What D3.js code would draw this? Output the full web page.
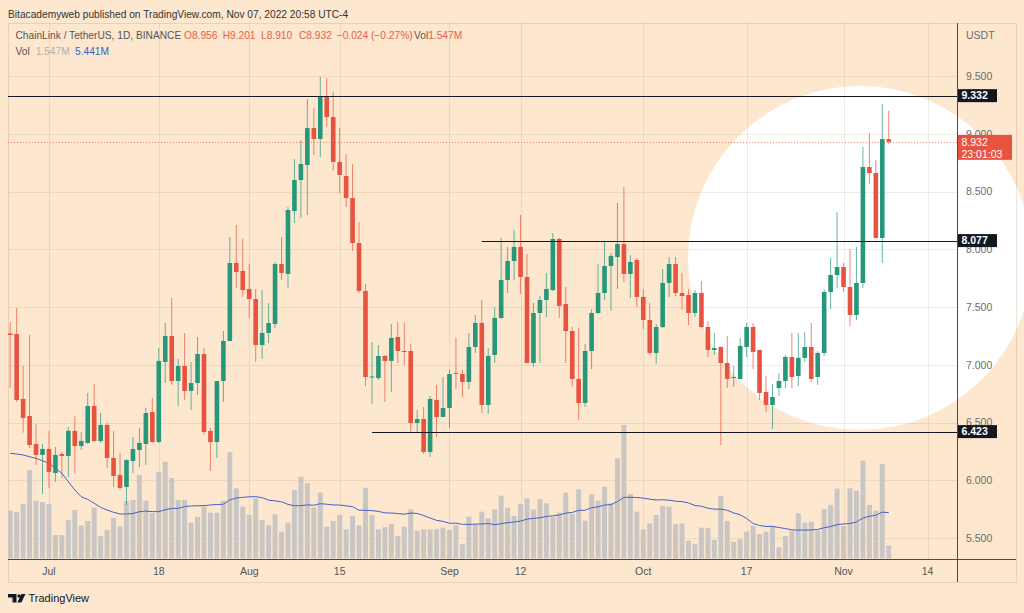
<!DOCTYPE html>
<html><head><meta charset="utf-8">
<script src="https://cdn.jsdelivr.net/npm/d3@7"></script>
<style>
html,body{margin:0;padding:0;background:#fde7cf;}
svg{display:block;font-family:"Liberation Sans",Arial,sans-serif;}
</style></head>
<body><svg id="c" width="1024" height="613"></svg>
<script>
// ---------- DATA ----------
const startDate = "2022-06-25"; // first daily candle, one per day
const open = [7.273,7.268,6.706,6.558,6.316,6.221,6.273,6.065,6.229,6.212,
6.429,6.299,6.325,6.645,6.342,6.481,6.195,6.048,5.944,6.169,
6.264,6.316,6.593,6.333,7.026,7.251,6.861,6.991,6.775,6.844,
7.095,6.429,6.333,6.861,7.208,7.883,7.814,7.658,7.571,7.173,
7.277,7.355,7.874,7.788,8.333,8.602,8.732,9.052,8.957,9.329,
9.147,8.758,8.636,8.446,8.056,7.641,6.896,6.887,7.078,7.035,
7.242,7.121,7.121,6.498,6.532,6.247,6.697,6.550,6.628,6.931,
6.922,6.853,7.156,7.364,6.654,7.087,7.407,7.736,7.900,8.022,
7.762,7.017,7.450,7.563,7.649,8.091,7.528,7.294,6.879,6.671,
7.121,7.450,7.623,7.857,7.935,8.048,7.788,7.909,7.589,7.390,
7.104,7.329,7.710,7.874,7.623,7.606,7.450,7.623,7.329,7.130,
7.156,7.017,6.887,6.879,7.156,7.329,7.130,6.766,6.654,6.801,
6.861,7.069,6.905,7.061,7.156,6.896,7.104,7.632,7.779,7.848,
7.675,7.433,7.710,8.714,8.662,8.100,8.956];
const high = [7.372,7.494,6.991,7.260,6.489,6.316,6.429,6.290,6.247,6.463,
6.558,6.420,6.758,6.835,6.584,6.498,6.429,6.238,6.186,6.377,
6.455,6.628,6.714,7.147,7.364,7.580,7.052,7.277,7.026,7.242,
7.147,6.455,6.861,7.294,8.108,8.212,8.091,7.874,7.658,7.649,
7.537,7.892,8.108,8.368,8.784,8.948,9.303,9.225,9.494,9.485,
9.364,9.052,8.827,8.740,8.238,7.701,7.199,7.173,7.087,7.355,
7.372,7.364,7.182,6.610,6.636,6.732,6.827,6.896,6.957,7.234,
6.957,7.277,7.433,7.563,7.147,7.502,8.100,8.022,8.169,8.299,
7.961,7.537,7.597,7.797,8.143,8.100,7.675,7.329,7.320,7.182,
7.485,7.874,8.074,7.970,8.403,8.541,7.952,7.926,7.658,7.537,
7.355,7.831,7.935,7.935,7.797,7.658,7.649,7.727,7.381,7.277,
7.156,7.251,6.991,7.234,7.364,7.364,7.130,6.905,6.835,6.931,
7.087,7.277,7.277,7.286,7.364,7.121,7.658,7.926,8.325,7.883,
8.004,8.022,8.887,9.009,8.775,9.260,9.201];
const low = [6.801,6.680,6.414,6.281,6.134,5.883,5.935,5.987,6.022,6.030,
6.065,6.264,6.316,6.333,6.325,6.108,5.944,5.918,5.788,6.065,
6.117,6.134,6.325,6.325,6.844,6.827,6.645,6.697,6.610,6.740,
6.394,6.082,6.195,6.680,7.208,7.667,7.589,7.407,7.026,7.052,
7.190,7.320,7.736,7.667,8.229,8.273,8.299,8.818,8.801,9.061,
8.680,8.489,8.368,7.987,7.623,6.818,6.662,6.870,6.680,6.766,
7.017,7.000,6.411,6.411,6.229,6.203,6.377,6.550,6.455,6.792,
6.723,6.792,7.104,6.584,6.576,7.017,7.398,7.623,7.736,7.615,
7.017,6.983,7.017,7.416,7.641,7.407,7.017,6.810,6.524,6.636,
6.965,7.442,7.563,7.468,7.658,7.719,7.580,7.502,7.312,7.087,
7.009,7.320,7.589,7.597,7.476,7.346,7.416,7.320,7.069,7.087,
6.307,6.801,6.810,6.879,7.069,6.965,6.697,6.593,6.446,6.732,
6.801,6.801,6.818,7.026,6.853,6.827,7.078,7.485,7.667,7.632,
7.338,7.390,7.667,8.567,8.100,7.883,8.910];
const close = [7.260,6.697,6.541,6.307,6.221,6.273,6.074,6.221,6.212,6.429,
6.299,6.342,6.645,6.342,6.481,6.195,6.039,5.935,6.177,6.273,
6.325,6.584,6.333,7.035,7.251,6.861,6.991,6.775,6.844,7.095,
6.420,6.333,6.861,7.208,7.883,7.805,7.649,7.571,7.173,7.277,
7.364,7.874,7.797,8.342,8.602,8.740,9.052,8.957,9.329,9.147,
8.758,8.645,8.446,8.056,7.641,6.896,6.900,7.078,7.035,7.234,
7.121,7.117,6.498,6.532,6.247,6.706,6.550,6.628,6.922,6.926,
6.853,7.156,7.364,6.654,7.078,7.407,7.736,7.900,8.022,7.762,
7.017,7.450,7.563,7.658,8.091,7.511,7.294,6.879,6.671,7.121,
7.450,7.623,7.857,7.944,8.048,7.788,7.892,7.589,7.390,7.104,
7.329,7.710,7.874,7.623,7.597,7.450,7.623,7.329,7.130,7.147,
7.017,6.879,6.896,7.165,7.329,7.113,6.758,6.654,6.723,6.861,
7.069,6.896,7.061,7.156,6.879,7.104,7.632,7.779,7.848,7.675,
7.433,7.710,8.714,8.662,8.100,8.956,8.932];
const volume = [5.68,5.52,6.47,10.51,6.87,6.71,6.47,2.79,2.79,4.57,
5.76,3.90,4.46,6.04,2.67,3.39,4.81,3.78,6.83,6.95,
9.92,6.87,5.41,10.31,11.50,9.56,6.95,6.95,4.25,4.93,
6.15,5.44,5.44,6.87,12.62,8.34,6.15,5.17,7.15,4.57,
3.94,5.25,3.18,4.25,8.14,9.72,8.93,6.08,7.82,3.78,
4.46,5.17,3.47,5.05,3.94,8.41,5.17,3.47,3.71,4.10,
2.67,3.78,5.84,3.30,3.47,3.47,3.47,3.66,3.39,3.98,
1.69,4.97,4.10,5.56,4.78,5.84,7.46,6.04,5.05,6.47,
7.15,5.84,7.07,6.56,4.97,5.44,7.82,5.29,8.22,4.49,
7.63,6.87,8.53,6.56,11.90,15.86,7.66,5.56,3.47,4.18,
5.17,6.24,6.15,4.06,4.18,2.11,1.72,3.66,3.62,2.20,
7.43,4.46,2.00,2.28,3.18,3.86,2.91,3.18,3.86,1.33,
2.67,3.30,5.37,4.25,4.37,3.30,5.84,6.36,8.30,3.86,
8.34,8.05,11.62,6.36,5.68,11.23,1.547];
// volume MA(20) values for the first candles (window reaches before the visible range)
const maHead = [12.50,12.41,12.30,12.09,11.90,11.62,11.31,10.72,10.12,9.12,8.14,7.34,7.03,6.56,6.08,5.76,5.49,5.29,5.29];
const maPeriod = 20;
const tickDates = ["2022-07-01","2022-07-18","2022-08-01","2022-08-15","2022-09-01","2022-09-12","2022-10-01","2022-10-17","2022-11-01","2022-11-14"];
const tickLabels = ["Jul","18","Aug","15","Sep","12","Oct","17","Nov","14"];
const priceTicks = [5.5,6.0,6.5,7.0,7.5,8.0,8.5,9.0,9.5];
const levelValues = [9.332, 8.077, 6.423];
const levelStart = [null, "2022-09-06", "2022-08-20"];
const lastPrice = 8.932;
const countdown = "23:01:03";

// ---------- LAYOUT ----------
const W = 1024, H = 613;
const pane = {l: 8, r: 957, t: 23, b: 559};
const frameR = 1016, frameB = 582;
const UP = "#26977a", DN = "#e8533f";
const svg = d3.select("#c");
const DAY = 86400000;
const t0 = Date.parse(startDate);
const dates = open.map((_, i) => new Date(t0 + i * DAY));

const x = d3.scaleUtc().domain([dates[0], dates[dates.length - 1]]).range([10.2, 10.2 + 6.46 * (dates.length - 1)]);
const y = d3.scaleLinear().domain([5.32, 9.961]).range([pane.b, pane.t]);
const yv = d3.scaleLinear().domain([0, 16]).range([558.5, 558.5 - 16 / 0.1188]);

svg.append("rect").attr("width", W).attr("height", H).attr("fill", "#fde7cf");

// highlight circle
svg.append("circle").attr("cx", 860).attr("cy", 258).attr("r", 172).attr("fill", "#ffffff");

// frame
svg.append("rect").attr("x", pane.l + 0.5).attr("y", pane.t + 0.5)
  .attr("width", frameR - pane.l).attr("height", frameB - pane.t)
  .attr("fill", "none").attr("stroke", "rgba(150,110,70,0.18)");

// grid
const grid = svg.append("g").attr("stroke", "rgba(150,110,70,0.13)").attr("stroke-width", 1);
tickDates.forEach(d => {
  const xx = Math.round(x(new Date(d))) + 0.5;
  grid.append("line").attr("x1", xx).attr("x2", xx).attr("y1", pane.t).attr("y2", pane.b);
});
priceTicks.forEach(p => {
  const yy = Math.round(y(p)) + 0.5;
  grid.append("line").attr("x1", pane.l).attr("x2", pane.r).attr("y1", yy).attr("y2", yy);
});

// clip
svg.append("defs").append("clipPath").attr("id", "pc").append("rect")
  .attr("x", pane.l).attr("y", pane.t).attr("width", pane.r - pane.l).attr("height", pane.b - pane.t);
const plot = svg.append("g").attr("clip-path", "url(#pc)");

// volume bars
plot.append("g").selectAll("rect").data(volume).join("rect")
  .attr("x", (v, i) => x(dates[i]) - 2.5).attr("width", 5)
  .attr("y", v => yv(v)).attr("height", v => yv(0) - yv(v))
  .attr("fill", "#c9c6c4");

// volume MA
const ma = volume.map((v, i) => i < maHead.length ? maHead[i] : d3.mean(volume.slice(i - maPeriod + 1, i + 1)));
plot.append("path").datum(ma)
  .attr("d", d3.line().x((v, i) => x(dates[i])).y(v => yv(v)))
  .attr("fill", "none").attr("stroke", "#4262c6").attr("stroke-width", 1);

// candles
const cg = plot.append("g");
open.forEach((o, i) => {
  const c = close[i], up = c >= o, col = up ? UP : DN;
  const cx = x(dates[i]);
  cg.append("line").attr("x1", cx).attr("x2", cx).attr("y1", y(high[i])).attr("y2", y(low[i]))
    .attr("stroke", col).attr("stroke-opacity", 0.7).attr("stroke-width", 1);
  const top = y(Math.max(o, c)), bot = y(Math.min(o, c));
  cg.append("rect").attr("x", cx - 2.3).attr("width", 4.6).attr("y", top).attr("height", Math.max(1, bot - top)).attr("fill", col);
});

// horizontal levels
levelValues.forEach((v, k) => {
  const yy = Math.round(y(v)) + 0.5;
  const x1 = levelStart[k] ? x(new Date(levelStart[k])) : pane.l;
  svg.append("line").attr("x1", x1).attr("x2", pane.r).attr("y1", yy).attr("y2", yy)
    .attr("stroke", "#131722").attr("stroke-width", 1);
});
// last price dotted
svg.append("line").attr("x1", pane.l).attr("x2", pane.r).attr("y1", Math.round(y(lastPrice)) + 0.5).attr("y2", Math.round(y(lastPrice)) + 0.5)
  .attr("stroke", DN).attr("stroke-width", 1).attr("stroke-dasharray", "1,2").attr("stroke-opacity", 0.7);

// axis lines
svg.append("line").attr("x1", pane.r + 0.5).attr("x2", pane.r + 0.5).attr("y1", pane.t).attr("y2", frameB).attr("stroke", "#4a4a4a");
svg.append("line").attr("x1", pane.l).attr("x2", frameR).attr("y1", pane.b + 0.5).attr("y2", pane.b + 0.5).attr("stroke", "#4a4a4a");

// price axis labels
const fmt = d3.format(".3f");
const pa = svg.append("g").attr("font-size", 10.5).attr("fill", "#6b6b6b");
priceTicks.forEach(p => {
  pa.append("text").attr("x", 966).attr("y", y(p)).attr("dy", "0.35em").text(fmt(p));
});
pa.append("text").attr("x", 966).attr("y", 35).attr("dy", "0.35em").text("USDT");

// level boxes
levelValues.forEach(v => {
  const yy = y(v);
  svg.append("rect").attr("x", 958).attr("y", yy - 6.5).attr("width", 39).attr("height", 13).attr("fill", "#131722");
  svg.append("text").attr("x", 961.5).attr("y", yy).attr("dy", "0.36em").attr("font-size", 10.5).attr("font-weight", "bold")
    .attr("fill", "#fff").text(fmt(v));
});
// last price box
{
  const yy = y(lastPrice);
  svg.append("rect").attr("x", 958).attr("y", yy - 7).attr("width", 54).attr("height", 25).attr("fill", DN);
  svg.append("text").attr("x", 961.5).attr("y", yy + 0.5).attr("dy", "0.35em").attr("font-size", 10.5).attr("fill", "#fff").text(fmt(lastPrice));
  svg.append("text").attr("x", 961.5).attr("y", yy + 12).attr("dy", "0.35em").attr("font-size", 10.5).attr("fill", "#fff").text(countdown);
}

// time axis labels
const ta = svg.append("g").attr("font-size", 10.5).attr("fill", "#555").attr("text-anchor", "middle");
tickDates.forEach((d, k) => {
  ta.append("text").attr("x", x(new Date(d))).attr("y", 571).attr("dy", "0.35em").text(tickLabels[k]);
});

// header
svg.append("text").attr("x", 8).attr("y", 14).attr("dy", "0.35em").attr("font-size", 10.2).attr("fill", "#333")
  .text("Bitacademyweb published on TradingView.com, Nov 07, 2022 20:58 UTC-4");

// legend
const lg = svg.append("g").attr("font-size", 10.2);
lg.append("text").attr("x", 15.5).attr("y", 35.3).attr("dy", "0.35em").attr("fill", "#555").text("ChainLink / TetherUS, 1D, BINANCE");
const legRed = "#e2604f";
[["O" + fmt(open[open.length-1]), 184], ["H" + fmt(high[high.length-1]), 222.7], ["L" + fmt(low[low.length-1]), 261], ["C" + fmt(lastPrice), 299],
 ["\u22120.024 (\u22120.27%)", 336.7]].forEach(([t, xx]) => {
  lg.append("text").attr("x", xx).attr("y", 35.3).attr("dy", "0.35em").attr("fill", legRed).text(t);
});
const vt = lg.append("text").attr("x", 414).attr("y", 35.3).attr("dy", "0.35em");
vt.append("tspan").attr("fill", "#555").text("Vol");
vt.append("tspan").attr("fill", legRed).text(volume[volume.length-1].toFixed(3) + "M");
lg.append("text").attr("x", 15.5).attr("y", 51).attr("dy", "0.35em").attr("fill", "#555").text("Vol");
lg.append("text").attr("x", 35.7).attr("y", 51).attr("dy", "0.35em").attr("fill", "#b3aeb0").text(volume[volume.length-1].toFixed(3) + "M");
lg.append("text").attr("x", 75).attr("y", 51).attr("dy", "0.35em").attr("fill", "#3b5ec6").text(d3.format(".3f")(ma[ma.length-1]) + "M");

// TradingView logo
const logo = svg.append("g").attr("fill", "#131722");
logo.append("path").attr("d", "M8,594 h8.5 v8.5 h-4 v-5 h-4.5 z");
logo.append("circle").attr("cx", 19).attr("cy", 596).attr("r", 1.7);
logo.append("path").attr("d", "M21.5,594 h4 l-4.2,8.5 h-4 z");
svg.append("text").attr("x", 28.5).attr("y", 598.3).attr("dy", "0.35em").attr("font-size", 11).attr("fill", "#131722").text("TradingView");
</script>
</body></html>
